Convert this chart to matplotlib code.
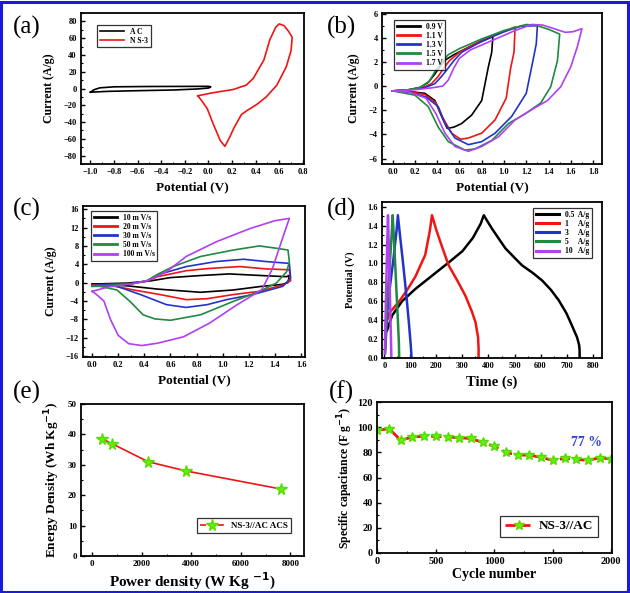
import matplotlib
matplotlib.use('Agg')
import matplotlib.pyplot as plt
from matplotlib.patches import Rectangle
from matplotlib.ticker import MultipleLocator

plt.rcParams['font.family'] = ['Liberation Serif', 'DejaVu Serif']
plt.rcParams['font.weight'] = 'bold'
plt.rcParams['axes.labelweight'] = 'bold'
plt.rcParams['mathtext.default'] = 'bf'

# ---- (a) CV of AC and NS-3 electrodes ----
ac_v = [-1.0, -0.97, -0.92, -0.8, -0.5, -0.2, 0.0, 0.02, 0.0, -0.1, -0.3, -0.6, -0.85, -1.0]
ac_i = [-4.4, -1.5, 0.8, 2.0, 2.4, 2.5, 2.6, 2.0, 0.5, -0.6, -1.8, -2.6, -3.4, -4.4]
ns_v = [-0.09, 0.04, 0.21, 0.32, 0.38, 0.47, 0.52, 0.57, 0.60, 0.64, 0.68, 0.71, 0.70, 0.66, 0.58,
        0.49, 0.41, 0.33, 0.28, 0.22, 0.18, 0.14, 0.10, 0.04, -0.01, -0.06, -0.09]
ns_i = [-8.7, -5, -1.2, 4, 12, 34, 58, 73, 77, 75, 68, 61, 45, 26, 4,
        -10, -19, -26, -31, -46, -58, -69, -62, -42, -24, -14, -8.7]

# ---- (b) CV at different voltage windows ----
b09_v = [0.0, 0.15, 0.25, 0.32, 0.38, 0.43, 0.48, 0.55, 0.7, 0.85, 0.9, 0.89, 0.86, 0.8, 0.71, 0.62, 0.55, 0.49, 0.44, 0.38, 0.29, 0.15, 0.0]
b09_i = [-0.4, -0.3, -0.1, 0.3, 1.0, 1.7, 2.2, 2.6, 3.3, 3.9, 4.1, 2.8, 1.6, -1.2, -2.4, -3.1, -3.4, -3.5, -2.5, -1.2, -0.6, -0.45, -0.4]
b11_v = [0.0, 0.15, 0.28, 0.35, 0.41, 0.46, 0.51, 0.6, 0.8, 1.0, 1.1, 1.09, 1.06, 1.02, 0.92, 0.8, 0.68, 0.61, 0.53, 0.45, 0.39, 0.29, 0.15, 0.0]
b11_i = [-0.4, -0.3, -0.1, 0.2, 0.8, 1.5, 2.1, 2.8, 3.8, 4.5, 4.9, 2.8, 1.5, -1.0, -2.8, -3.9, -4.3, -4.4, -3.9, -2.6, -1.4, -0.7, -0.45, -0.4]
b13_v = [0.0, 0.15, 0.3, 0.38, 0.44, 0.5, 0.55, 0.62, 0.8, 1.0, 1.15, 1.3, 1.29, 1.26, 1.2, 1.07, 0.92, 0.8, 0.68, 0.56, 0.47, 0.41, 0.3, 0.15, 0.0]
b13_i = [-0.4, -0.3, -0.1, 0.2, 0.8, 1.5, 2.1, 2.8, 3.7, 4.5, 4.95, 5.0, 3.5, 2.1, -0.6, -2.5, -3.9, -4.6, -4.85, -4.3, -3.1, -1.7, -0.9, -0.5, -0.4]
b15_v = [0.0, 0.15, 0.25, 0.33, 0.38, 0.44, 0.5, 0.6, 0.8, 1.0, 1.2, 1.3, 1.4, 1.5, 1.48, 1.42, 1.33, 1.19, 1.04, 0.89, 0.74, 0.65, 0.5, 0.41, 0.32, 0.2, 0.0]
b15_i = [-0.4, -0.3, -0.1, 0.4, 1.2, 2.0, 2.6, 3.1, 3.9, 4.6, 5.1, 5.0, 4.7, 4.3, 2.1, -0.05, -1.4, -2.3, -3.1, -4.5, -5.2, -5.3, -4.6, -3.4, -1.7, -0.75, -0.4]
b17_v = [0.0, 0.2, 0.35, 0.45, 0.5, 0.55, 0.6, 0.7, 0.9, 1.1, 1.25, 1.35, 1.45, 1.55, 1.62, 1.7, 1.66, 1.6, 1.51, 1.39, 1.24, 1.1, 0.95, 0.8, 0.68, 0.56, 0.47, 0.39, 0.30, 0.15, 0.0]
b17_i = [-0.4, -0.3, -0.15, 0.0, 0.5, 1.5, 2.3, 3.0, 3.8, 4.6, 5.1, 5.05, 4.75, 4.45, 4.5, 4.75, 3.3, 1.6, -0.05, -1.2, -2.0, -2.8, -4.2, -5.0, -5.4, -5.0, -3.9, -2.3, -1.0, -0.5, -0.4]
b_labels = ['0.9 V', '1.1 V', '1.3 V', '1.5 V', '1.7 V']

# ---- (c) CV at different scan rates ----
c10_v = [0.0, 0.27, 0.45, 0.6, 0.83, 1.05, 1.33, 1.49, 1.51, 1.5, 1.45, 1.3, 1.08, 0.83, 0.5, 0.27, 0.1, 0.0]
c10_i = [-0.3, -0.1, 0.4, 1.1, 1.55, 1.9, 1.5, 1.3, 1.6, 0.0, -0.4, -0.8, -1.6, -2.1, -1.4, -0.7, -0.45, -0.4]
c20_v = [0.0, 0.3, 0.42, 0.5, 0.72, 0.9, 1.13, 1.33, 1.51, 1.52, 1.46, 1.28, 1.08, 0.88, 0.72, 0.52, 0.32, 0.14, 0.0]
c20_i = [-0.5, -0.2, 0.3, 1.3, 2.6, 3.1, 3.5, 3.0, 2.8, 0.4, -0.5, -1.9, -2.6, -3.5, -3.7, -2.6, -1.6, -0.6, -0.5]
c30_v = [0.0, 0.3, 0.42, 0.5, 0.72, 0.95, 1.16, 1.33, 1.51, 1.52, 1.46, 1.23, 1.03, 0.88, 0.72, 0.57, 0.37, 0.19, 0.0]
c30_i = [-0.6, -0.2, 0.4, 1.7, 3.5, 4.6, 5.1, 4.6, 4.2, 1.0, -0.8, -2.6, -3.7, -4.8, -5.4, -4.8, -2.6, -0.8, -0.7]
c50_v = [0.0, 0.3, 0.42, 0.5, 0.62, 0.83, 1.08, 1.28, 1.41, 1.5, 1.51, 1.49, 1.41, 1.28, 1.08, 0.83, 0.6, 0.48, 0.39, 0.29, 0.19, 0.06, 0.0]
c50_i = [-0.8, -0.3, 0.4, 1.8, 3.5, 5.7, 7.1, 8.0, 7.5, 7.1, 4.5, 2.4, -0.1, -1.9, -4.1, -7.0, -8.2, -7.9, -7.0, -4.1, -1.6, -0.8, -0.8]
c100_v = [0.0, 0.13, 0.32, 0.44, 0.57, 0.72, 0.95, 1.21, 1.4, 1.51, 1.45, 1.38, 1.3, 1.1, 0.9, 0.7, 0.5, 0.38, 0.28, 0.2, 0.14, 0.09, 0.03, 0.0]
c100_i = [-1.9, -0.9, -0.2, 0.6, 2.4, 5.7, 8.9, 11.8, 13.5, 14.0, 9.0, 3.0, -1.5, -5.0, -8.8, -11.8, -13.2, -13.7, -13.3, -11.5, -8.0, -4.0, -2.5, -1.9]
c_labels = ['10 m V/s', '20 m V/s', '30 m V/s', '50 m V/s', '100 m V/s']

# ---- (d) galvanostatic charge/discharge ----
d05_t = [10, 30, 68, 119, 183, 247, 300, 340, 370, 382, 395, 413, 440, 465, 500, 529, 570, 606, 640, 670, 700, 721, 740, 748, 750, 750]
d05_v = [0.29, 0.45, 0.60, 0.73, 0.87, 1.01, 1.13, 1.27, 1.42, 1.51, 1.45, 1.37, 1.26, 1.16, 1.06, 0.98, 0.90, 0.82, 0.72, 0.61, 0.47, 0.34, 0.22, 0.14, 0.08, 0.0]
d1_t = [5, 20, 55, 90, 119, 157, 175, 183, 200, 225, 247, 280, 311, 335, 350, 360, 362, 362]
d1_v = [0.35, 0.48, 0.59, 0.73, 0.86, 1.09, 1.35, 1.51, 1.35, 1.15, 0.98, 0.82, 0.66, 0.5, 0.38, 0.22, 0.1, 0.0]
d3_t = [4, 10, 20, 35, 47, 52, 60, 72, 85, 95, 101, 104, 104]
d3_v = [0.1, 0.45, 0.72, 1.05, 1.35, 1.51, 1.3, 1.0, 0.65, 0.35, 0.15, 0.03, 0.0]
d5_t = [3, 10, 20, 28, 32, 38, 45, 52, 56, 57]
d5_v = [0.05, 0.55, 0.95, 1.3, 1.51, 1.2, 0.8, 0.4, 0.15, 0.0]
d10_t = [2, 6, 10, 14, 18, 22, 25, 27]
d10_v = [0.05, 0.6, 1.1, 1.51, 1.1, 0.6, 0.25, 0.0]
d_labels = ['0.5  A/g', '1     A/g', '3     A/g', '5     A/g', '10   A/g']

# ---- (e) Ragone plot ----
power = [400, 780, 2260, 3770, 7640]
energy = [38.5, 37.0, 31.0, 28.0, 22.0]

# ---- (f) cycling stability ----
cycles = [0, 100, 200, 300, 400, 500, 600, 700, 800, 900, 1000,
          1100, 1200, 1300, 1400, 1500, 1600, 1700, 1800, 1900, 2000]
capac = [97.6, 98.7, 89.7, 92.1, 92.9, 92.6, 92.3, 91.6, 91.0, 87.9, 84.7,
         79.9, 77.8, 77.8, 76.0, 73.6, 75.2, 74.4, 73.6, 75.7, 74.7]

BLACK, RED, BLUE, GREEN, PURPLE = '#000000', '#f01414', '#2233c8', '#1f8a40', '#b040f0'
cols = [BLACK, RED, BLUE, GREEN, PURPLE]
STAR = '#66ee11'

W, H = 630, 593
fig = plt.figure(figsize=(W / 100, H / 100), dpi=100)


def box(l, t, r, b):
    return fig.add_axes([l / W, 1 - b / H, (r - l) / W, (b - t) / H])


def style(ax, xmaj, xmin, ymaj, ymin, ts=6):
    ax.xaxis.set_major_locator(MultipleLocator(xmaj))
    ax.xaxis.set_minor_locator(MultipleLocator(xmin))
    ax.yaxis.set_major_locator(MultipleLocator(ymaj))
    ax.yaxis.set_minor_locator(MultipleLocator(ymin))
    ax.tick_params(which='major', direction='in', length=3, width=1, labelsize=ts, pad=3)
    ax.tick_params(which='minor', direction='in', length=1.5, width=0.8)
    for s in ax.spines.values():
        s.set_linewidth(1.3)


def leg(ax, loc, xy, fs=5.5, hl=3.0, htp=0.8):
    lg = ax.legend(loc=loc, bbox_to_anchor=(xy[0] / W, 1 - xy[1] / H), bbox_transform=fig.transFigure,
                   fontsize=fs, frameon=True, fancybox=False, edgecolor='black', borderaxespad=0,
                   borderpad=0.35, labelspacing=0.15, handletextpad=htp, handlelength=hl)
    lg.get_frame().set_linewidth(0.9)
    return lg


# (a)
ax = box(81, 13, 304, 164)
ax.plot(ac_v, ac_i, color=BLACK, lw=1.2, label='A C')
ax.plot(ns_v, ns_i, color=RED, lw=1.2, label='N S-3')
ax.set_xlim(-1.08, 0.81)
ax.set_ylim(-90, 90)
style(ax, 0.2, 0.1, 20, 10)
ax.set_xlabel('Potential (V)', fontsize=9.5, labelpad=4)
ax.set_ylabel('Current (A/g)', fontsize=8.5, labelpad=6)
leg(ax, 'upper left', (97, 25), hl=3.2)

# (b)
ax = box(382, 13, 602, 164)
for v, i, c, lb in zip([b09_v, b11_v, b13_v, b15_v, b17_v], [b09_i, b11_i, b13_i, b15_i, b17_i], cols, b_labels):
    ax.plot(v, i, color=c, lw=1.2, label=lb)
ax.set_xlim(-0.095, 1.88)
ax.set_ylim(-6.45, 6.05)
style(ax, 0.2, 0.1, 2, 1)
ax.set_xlabel('Potential (V)', fontsize=9.5, labelpad=4)
ax.set_ylabel('Current (A/g)', fontsize=8.5, labelpad=6)
lg = leg(ax, 'upper left', (394, 20))
for h in lg.get_lines():
    h.set_linewidth(2)

# (c)
ax = box(83, 206, 305, 357)
for v, i, c, lb in zip([c10_v, c20_v, c30_v, c50_v, c100_v], [c10_i, c20_i, c30_i, c50_i, c100_i], cols, c_labels):
    ax.plot(v, i, color=c, lw=1.2, label=lb)
ax.set_xlim(-0.07, 1.63)
ax.set_ylim(-16.2, 16.7)
style(ax, 0.2, 0.1, 4, 2)
ax.set_xlabel('Potential (V)', fontsize=9.5, labelpad=4)
ax.set_ylabel('Current (A/g)', fontsize=8.5, labelpad=6)
lg = leg(ax, 'upper left', (91, 211))
for h in lg.get_lines():
    h.set_linewidth(2)

# (d)
ax = box(382, 202, 602, 358)
for t, v, c, lb in zip([d05_t, d1_t, d3_t, d5_t, d10_t], [d05_v, d1_v, d3_v, d5_v, d10_v], cols, d_labels):
    ax.plot(t, v, color=c, lw=1.8, label=lb)
ax.set_xlim(-9, 836)
ax.set_ylim(0, 1.65)
style(ax, 100, 50, 0.2, 0.1)
ax.set_xlabel('Time (s)', fontsize=10.5, labelpad=4)
ax.set_ylabel('Potential (V)', fontsize=7.5, labelpad=9)
lg = leg(ax, 'upper right', (592, 208))
for h in lg.get_lines():
    h.set_linewidth(2.2)

# (e)
ax = box(81, 404, 304, 556)
ax.plot(power, energy, color=RED, lw=1.2, marker='*', ms=8.5, mfc=STAR, mec='#55dd00',
        label='NS-3//AC ACS')
ax.set_xlim(-458, 8552)
ax.set_ylim(0, 50)
style(ax, 2000, 1000, 10, 5, ts=6.5)
ax.set_xlabel('Power density (W Kg $^{-1}$)', fontsize=11, labelpad=2)
ax.set_ylabel('Energy Density (Wh Kg$^{-1}$)', fontsize=9.5, labelpad=4)
lg = leg(ax, 'lower right', (291, 533), fs=6.5, hl=2.6)
lg.get_lines()[0].set_linestyle('--')

# (f)
ax = box(377, 402, 612, 553)
ax.plot(cycles, capac, color=RED, lw=2, ls='--', marker='*', ms=7, mfc=STAR, mec='#55dd00',
        label='NS-3//AC')
ax.text(1785, 88, '77 %', color='#3344cc', fontsize=10, ha='center', va='center')
ax.set_xlim(-3, 2006)
ax.set_ylim(0, 120)
style(ax, 500, 250, 20, 10, ts=7.5)
ax.set_xlabel('Cycle number', fontsize=10, labelpad=1)
ax.set_ylabel('Specific capacitance (F g$^{-1}$)', fontsize=8.5, labelpad=2)
leg(ax, 'lower right', (598, 537), fs=9.5, hl=2.2, htp=0.4)

# panel letters
for lab, x, y in [('(a)', 27, 27), ('(b)', 341, 27), ('(c)', 27, 209),
                  ('(d)', 341, 209), ('(e)', 27, 392), ('(f)', 341, 392)]:
    fig.text(x / W, 1 - y / H, lab, fontsize=18, fontweight='normal', ha='center', va='center')

# outer blue frame
fig.patches.append(Rectangle((1 / W, 1 / H), 1 - 3 / W, 1 - 3 / H, transform=fig.transFigure,
                             fill=False, edgecolor='#1a1ad8', lw=2.2))

fig.savefig('out.png', dpi=100)
